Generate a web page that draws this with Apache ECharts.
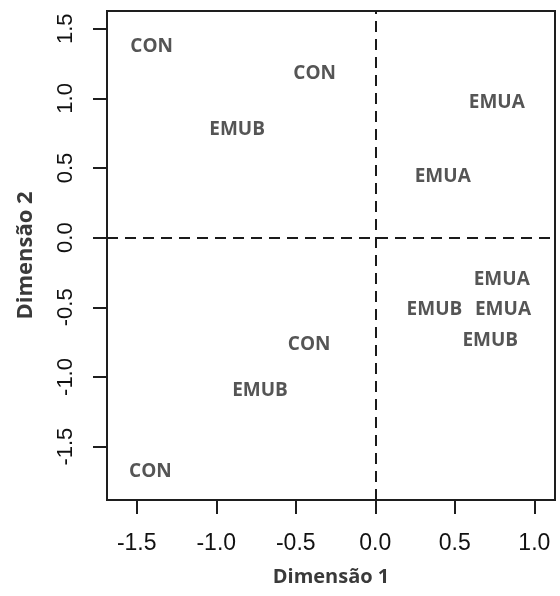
<!DOCTYPE html>
<html>
<head>
<meta charset="utf-8">
<script src="https://cdn.jsdelivr.net/npm/echarts@6/dist/echarts.min.js"></script>
<style>
  html, body { margin: 0; padding: 0; background: #fff; }
  #chart { width: 560px; height: 596px; }
</style>
</head>
<body>
<div id="chart"></div>
<script>
// Group labels and their coordinates on the two dimensions
const groups = ['CON', 'CON', 'EMUB', 'EMUA', 'EMUA', 'EMUA', 'EMUB', 'EMUA', 'EMUB', 'CON', 'EMUB', 'CON'];
const dim1 = [-1.406, -0.381, -0.869, 0.764, 0.424, 0.795, 0.372, 0.803, 0.723, -0.416, -0.725, -1.414];
const dim2 = [1.371, 1.180, 0.773, 0.967, 0.438, -0.300, -0.513, -0.513, -0.740, -0.769, -1.099, -1.678];

// Axis tick positions
const xTicks = [-1.5, -1.0, -0.5, 0.0, 0.5, 1.0];
const yTicks = [-1.5, -1.0, -0.5, 0.0, 0.5, 1.0, 1.5];

// Axis extents
const xRange = [-1.687, 1.130];
const yRange = [-1.883, 1.627];

const points = groups.map((g, i) => ({ value: [dim1[i], dim2[i]], name: g }));

const tickFont = 'Liberation Sans, Arial, sans-serif';
const boldFont = 'Open Sans, sans-serif';

const chart = echarts.init(document.getElementById('chart'), null, { renderer: 'canvas' });

chart.setOption({
  animation: false,
  backgroundColor: '#ffffff',
  grid: {
    left: 107, top: 11, width: 448, height: 489,
    show: true, borderColor: '#1e1e1e', borderWidth: 2,
    backgroundColor: 'transparent',
    outerBoundsMode: 'none'
  },
  xAxis: {
    type: 'value',
    min: xRange[0], max: xRange[1],
    name: 'Dimensão 1',
    nameLocation: 'middle',
    nameGap: 67,
    nameMoveOverlap: false,
    nameTextStyle: { fontFamily: boldFont, fontWeight: 'bold', fontSize: 20, color: '#3a3a3a' },
    axisLine: { show: true, onZero: false, lineStyle: { color: '#1e1e1e', width: 2 } },
    axisTick: { show: true, inside: false, length: 14, customValues: xTicks, lineStyle: { color: '#1e1e1e', width: 2 } },
    axisLabel: {
      customValues: xTicks, margin: 32,
      fontFamily: tickFont, fontSize: 23, color: '#111',
      formatter: v => v.toFixed(1)
    },
    splitLine: { show: false }
  },
  yAxis: {
    type: 'value',
    min: yRange[0], max: yRange[1],
    name: 'Dimensão 2',
    nameLocation: 'middle',
    nameGap: 70,
    nameMoveOverlap: false,
    nameTextStyle: { fontFamily: boldFont, fontWeight: 'bold', fontSize: 22, color: '#3a3a3a' },
    axisLine: { show: true, onZero: false, lineStyle: { color: '#1e1e1e', width: 2 } },
    axisTick: { show: true, inside: false, length: 14, customValues: yTicks, lineStyle: { color: '#1e1e1e', width: 2 } },
    axisLabel: {
      customValues: yTicks, margin: 30, rotate: 90,
      fontFamily: tickFont, fontSize: 22, color: '#111',
      formatter: v => v.toFixed(1)
    },
    splitLine: { show: false }
  },
  series: [{
    type: 'scatter',
    data: points,
    symbolSize: 1,
    itemStyle: { color: 'rgba(0,0,0,0)' },
    label: {
      show: true,
      position: 'inside',
      formatter: p => p.name,
      fontFamily: boldFont, fontWeight: 'bold', fontSize: 19, color: '#2b2b2b'
    },
    emphasis: { disabled: true },
    markLine: {
      silent: true,
      symbol: 'none',
      label: { show: false },
      lineStyle: { color: '#1a1a1a', width: 2, type: [11, 7] },
      data: [{ xAxis: 0 }, { yAxis: 0 }]
    }
  }]
});
</script>
</body>
</html>
